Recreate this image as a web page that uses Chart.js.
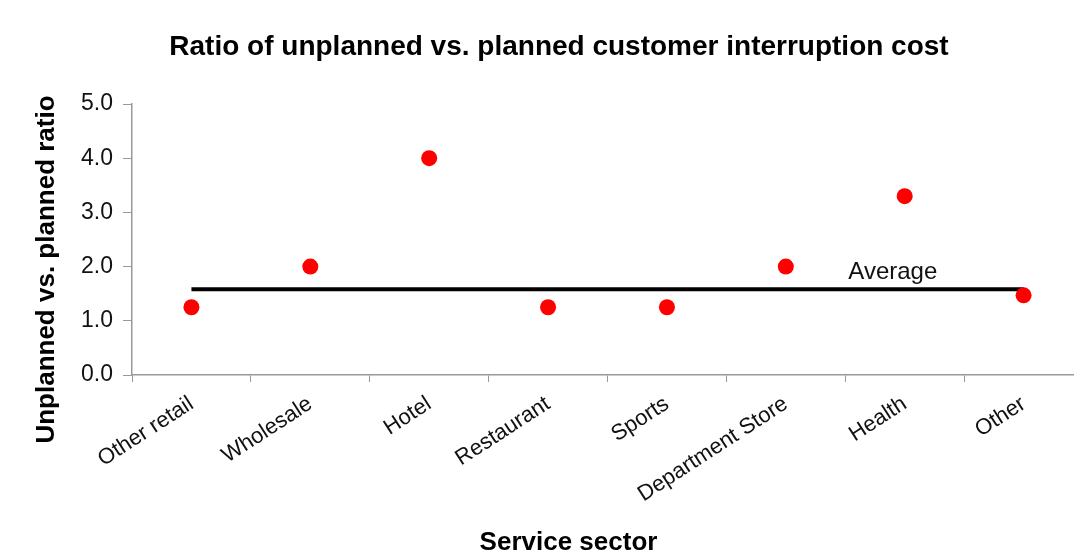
<!DOCTYPE html>
<html>
<head>
<meta charset="utf-8">
<script src="https://cdn.jsdelivr.net/npm/chart.js@4"></script>
<style>
  html, body { margin: 0; padding: 0; background: #fff; overflow: hidden; }
  #wrap { width: 1100px; height: 555px; }
</style>
</head>
<body>
<div id="wrap"><canvas id="ratioChart" width="1100" height="555"></canvas></div>
<script>
// values
const sectors = ['Other retail', 'Wholesale', 'Hotel', 'Restaurant', 'Sports', 'Department Store', 'Health', 'Other'];
const ratios = [1.25, 2.0, 4.0, 1.25, 1.25, 2.0, 3.3, 1.47];
const averageRatio = 1.58;
const averageLabel = 'Average';
const xAxisTitle = 'Service sector';
const yAxisTitle = 'Unplanned vs. planned ratio';
const yTicks = [0, 1, 2, 3, 4, 5];

const FONT = "'Liberation Sans', Arial, sans-serif";
const AXIS_GREY = '#999999';

// "Average" text above the line, plus both axis titles
// (in the original they sit a little off the centre of the plot area)
const extraText = {
    id: 'extraText',
    afterDraw(chart) {
        const ctx = chart.ctx;
        const area = chart.chartArea;
        ctx.save();
        ctx.fillStyle = '#111';
        ctx.textAlign = 'center';
        ctx.textBaseline = 'middle';
        ctx.font = '24px ' + FONT;
        ctx.fillText(averageLabel,
            chart.scales.x.getPixelForValue(5.9),
            chart.scales.y.getPixelForValue(averageRatio) - 17);

        ctx.fillStyle = '#000';
        ctx.font = 'bold 26px ' + FONT;
        ctx.fillText(xAxisTitle, (area.left + area.right) / 2 - 39, chart.height - 12);

        ctx.translate(47, (area.top + area.bottom) / 2 + 30);
        ctx.rotate(-Math.PI / 2);
        ctx.fillText(yAxisTitle, 0, 0);
        ctx.restore();
    }
};

const ctx = document.getElementById('ratioChart').getContext('2d');
new Chart(ctx, {
    type: 'line',
    data: {
        labels: sectors,
        datasets: [{
            label: 'Ratio',
            data: ratios,
            showLine: false,
            pointRadius: 8,
            pointHoverRadius: 8,
            pointBackgroundColor: '#ff0000',
            pointBorderWidth: 0,
            borderColor: '#ff0000'
        }, {
            label: averageLabel,
            data: sectors.map(() => averageRatio),
            borderColor: '#000',
            borderWidth: 4,
            pointRadius: 0,
            fill: false
        }]
    },
    options: {
        responsive: false,
        animation: false,
        layout: { padding: { top: 0, left: 35, right: 17, bottom: 0 } },
        plugins: {
            legend: { display: false },
            tooltip: { enabled: false },
            title: {
                display: true,
                text: 'Ratio of unplanned vs. planned customer interruption cost',
                color: '#000',
                font: { family: FONT, size: 28, weight: 'bold' },
                padding: { top: 30, bottom: 40.4 }
            }
        },
        scales: {
            x: {
                offset: true,
                grid: { offset: true, drawOnChartArea: false, drawTicks: true, tickLength: 7, color: AXIS_GREY },
                border: { color: AXIS_GREY, width: 1.5 },
                ticks: {
                    color: '#111',
                    font: { family: FONT, size: 22 },
                    minRotation: 33,
                    maxRotation: 33,
                    padding: 9,
                    autoSkip: false
                },
                afterFit(scale) { scale.height = 180; }
            },
            y: {
                min: 0,
                max: 5,
                afterBuildTicks(scale) { scale.ticks = yTicks.map(v => ({ value: v })); },
                grid: { drawOnChartArea: false, drawTicks: true, tickLength: 9, color: AXIS_GREY },
                border: { color: AXIS_GREY, width: 1.5 },
                ticks: {
                    color: '#111',
                    font: { family: FONT, size: 23 },
                    padding: 10,
                    callback: v => Number(v).toFixed(1)
                },
                afterFit(scale) { scale.width = 97; }
            }
        }
    },
    plugins: [extraText]
});
</script>
</body>
</html>
